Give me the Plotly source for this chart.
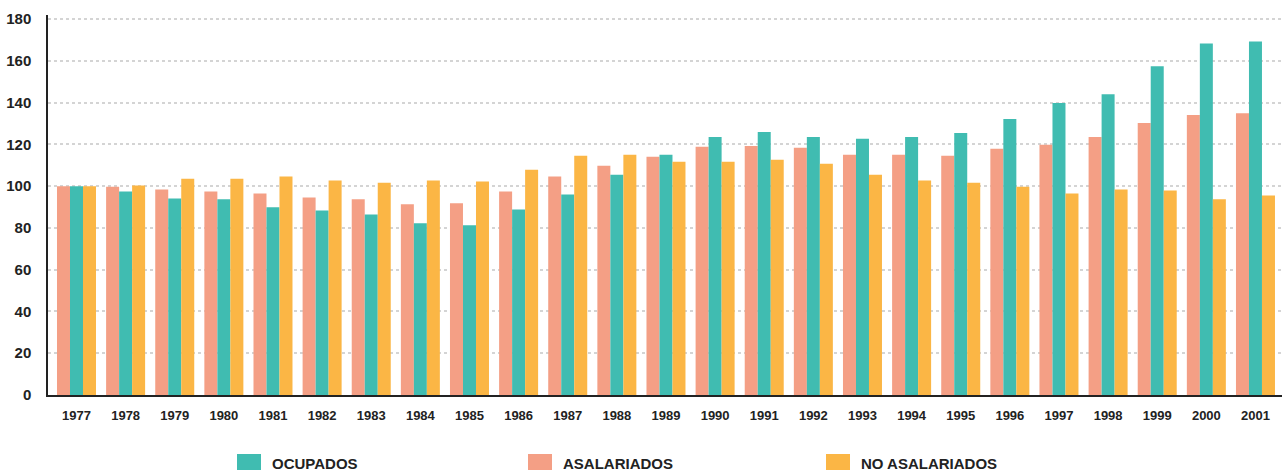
import plotly.graph_objects as go

years = [str(y) for y in range(1977, 2002)]
asalariados = [100, 99.8, 98.4, 97.5, 96.5, 94.6, 93.7, 91.3, 91.8, 97.5, 104.6, 109.8,
               114.1, 118.9, 119.3, 118.4, 115.1, 115.1, 114.6, 117.9, 119.8, 123.6,
               130.3, 134.1, 135.0]
ocupados = [100, 97.5, 94.1, 93.7, 89.9, 88.4, 86.5, 82.3, 81.3, 88.9, 96.0, 105.5,
            115.1, 123.6, 126.0, 123.6, 122.7, 123.6, 125.5, 132.2, 139.8, 144.1,
            157.4, 168.3, 169.3]
no_asalariados = [100, 100.3, 103.6, 103.6, 104.6, 102.7, 101.7, 102.7, 102.2, 107.9,
                  114.6, 115.1, 111.7, 111.7, 112.7, 110.8, 105.5, 102.7, 101.7, 99.8,
                  96.5, 98.4, 97.9, 93.7, 95.6]
y_ticks = [0, 20, 40, 60, 80, 100, 120, 140, 160, 180]

C_OCU = "#40BCB1"
C_ASA = "#F49F85"
C_NOA = "#FBB645"
FONT = "Liberation Sans, Arial, Helvetica, sans-serif"
TXT = "#222222"

fig = go.Figure()
fig.add_trace(go.Bar(x=years, y=asalariados, name="ASALARIADOS", marker_color=C_ASA,
                     marker_line_width=0, showlegend=False))
fig.add_trace(go.Bar(x=years, y=ocupados, name="OCUPADOS", marker_color=C_OCU,
                     marker_line_width=0, showlegend=False))
fig.add_trace(go.Bar(x=years, y=no_asalariados, name="NO ASALARIADOS", marker_color=C_NOA,
                     marker_line_width=0, showlegend=False))

W, H = 1282, 471
L, R, T, B = 48, 0, 15, 76
pw, ph = W - L - R, H - T - B


def px_x(p):
    return (p - L) / pw


def px_y(p):
    return (H - B - p) / ph


# Manual legend
legend_items = [("OCUPADOS", C_OCU, 237), ("ASALARIADOS", C_ASA, 528),
                ("NO ASALARIADOS", C_NOA, 826)]
shapes = []
annotations = []
for name, col, x0 in legend_items:
    shapes.append(dict(type="rect", xref="paper", yref="paper",
                       x0=px_x(x0), x1=px_x(x0 + 24), y0=px_y(470), y1=px_y(454),
                       fillcolor=col, line=dict(width=0)))
    annotations.append(dict(xref="paper", yref="paper", x=px_x(x0 + 33), y=px_y(463),
                            text=name, showarrow=False, xanchor="left", yanchor="middle",
                            font=dict(family=FONT, size=15, color=TXT, weight="bold")))

fig.update_layout(
    width=W, height=H,
    margin=dict(l=L, r=R, t=T, b=B, pad=0),
    paper_bgcolor="white", plot_bgcolor="white",
    barmode="group", bargap=0.206, bargroupgap=0,
    font=dict(family=FONT, color=TXT, weight="bold"),
    shapes=shapes, annotations=annotations,
    showlegend=False,
)
fig.update_xaxes(
    type="category", range=[-0.58, 24.54],
    showgrid=False, showline=True, linecolor="#222222", linewidth=1.5,
    ticks="", tickfont=dict(family=FONT, size=13, color=TXT, weight="bold"),
    ticklabelstandoff=8, zeroline=False,
)
fig.update_yaxes(
    range=[0, 182], tickvals=y_ticks, ticktext=[str(v) for v in y_ticks],
    showgrid=True, gridcolor="#d4d4d4", griddash="dot", gridwidth=1.5,
    showline=True, linecolor="#222222", linewidth=1.5,
    ticks="", tickfont=dict(family=FONT, size=15, color=TXT, weight="bold"),
    ticklabelstandoff=12, zeroline=False,
)

fig.write_html("out.html", config={"displayModeBar": False},
               post_script="document.body.style.margin='0';document.body.style.overflow='hidden';")
